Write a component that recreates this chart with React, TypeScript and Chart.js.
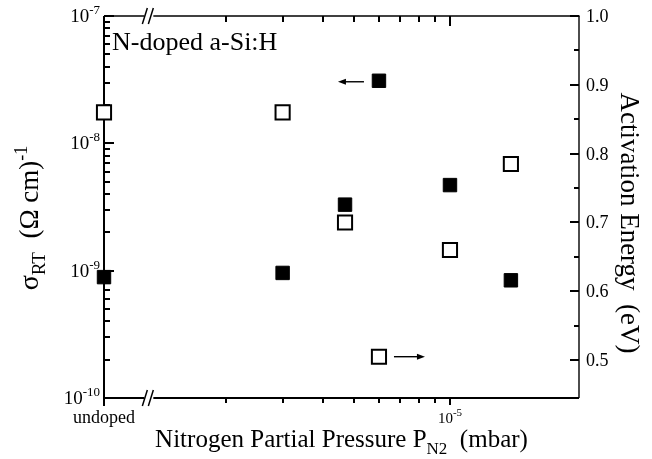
import React, { useEffect, useRef } from "react";
import { Chart, registerables } from "chart.js";

Chart.register(...registerables);

// ---------- data ----------
const UNDOPED = 8.3e-7; // x position used for the "undoped" sample
const X_MAX = 2.53e-5;
const BREAK_AT = 1.15e-6;

const conductivityPressure = [UNDOPED, 3e-6, 4.7e-6, 6e-6, 1e-5, 1.55e-5];
const conductivity = [8.9e-10, 9.6e-10, 3.3e-9, 3.1e-8, 4.7e-9, 8.4e-10];

const energyPressure = [UNDOPED, 3e-6, 4.7e-6, 6e-6, 1e-5, 1.55e-5];
const activationEnergy = [0.86, 0.86, 0.7, 0.505, 0.66, 0.785];

const xTickValues = [UNDOPED, 2e-6, 3e-6, 4e-6, 5e-6, 6e-6, 7e-6, 8e-6, 9e-6, 1e-5];
const xMajorValues = [UNDOPED, 1e-5];
const xTickLabels = ["undoped", "10|-5"];

const yLeftMajor = [1e-10, 1e-9, 1e-8, 1e-7];
const yLeftLabels = ["10|-10", "10|-9", "10|-8", "10|-7"];
const yLeftMinorFactors = [2, 3, 4, 5, 6, 7, 8, 9];

const yRightMajor = [0.5, 0.6, 0.7, 0.8, 0.9, 1.0];
const yRightLabels = ["0.5", "0.6", "0.7", "0.8", "0.9", "1.0"];
const yRightMinor = [0.55, 0.65, 0.75, 0.85, 0.95];

const FONT = '"Liberation Serif", "Times New Roman", serif';

type Part = { t: string; size: number; dy?: number };

function partsWidth(ctx: CanvasRenderingContext2D, parts: Part[]) {
  let w = 0;
  for (const p of parts) {
    ctx.font = `${p.size}px ${FONT}`;
    w += ctx.measureText(p.t).width;
  }
  return w;
}

function drawParts(
  ctx: CanvasRenderingContext2D,
  parts: Part[],
  x: number,
  y: number,
  align: "left" | "center" | "right"
) {
  const w = partsWidth(ctx, parts);
  let cx = align === "left" ? x : align === "center" ? x - w / 2 : x - w;
  ctx.textAlign = "left";
  ctx.textBaseline = "alphabetic";
  for (const p of parts) {
    ctx.font = `${p.size}px ${FONT}`;
    ctx.fillText(p.t, cx, y + (p.dy || 0));
    cx += ctx.measureText(p.t).width;
  }
}

function powerParts(label: string, base: number, sup: number, rise: number): Part[] {
  const [b, e] = label.split("|");
  if (e === undefined) return [{ t: b, size: base }];
  return [
    { t: b, size: base },
    { t: e, size: sup, dy: -rise },
  ];
}

function seg(ctx: CanvasRenderingContext2D, x1: number, y1: number, x2: number, y2: number, w: number) {
  ctx.lineWidth = w;
  ctx.beginPath();
  ctx.moveTo(x1, y1);
  ctx.lineTo(x2, y2);
  ctx.stroke();
}

// tick marks as filled rectangles
function hTick(ctx: CanvasRenderingContext2D, x: number, y: number, len: number) {
  const yy = Math.round(y) - 1;
  if (len >= 0) ctx.fillRect(x, yy, len, 2);
  else ctx.fillRect(x + len, yy, -len, 2);
}
function vTick(ctx: CanvasRenderingContext2D, x: number, y: number, len: number) {
  const xx = Math.round(x) - 1;
  if (len >= 0) ctx.fillRect(xx, y, 2, len);
  else ctx.fillRect(xx, y + len, 2, -len);
}

function drawFrameAndTicks(chart: any) {
  const ctx: CanvasRenderingContext2D = chart.ctx;
  const { left, right, top, bottom } = chart.chartArea;
  const xs = chart.scales.x;
  const yl = chart.scales.y;
  const yr = chart.scales.y1;
  ctx.save();
  ctx.strokeStyle = "#000";
  ctx.fillStyle = "#000";
  ctx.lineCap = "butt";

  // frame
  seg(ctx, left, top, left, bottom + 8, 2);
  seg(ctx, left - 1, bottom, right, bottom, 2);
  seg(ctx, left, top, right + 0.6, top, 1.4);
  seg(ctx, right, top, right, bottom, 1.4);

  // ticks
  for (let i = 0; i < yLeftMajor.length; i++) {
    const v = yLeftMajor[i];
    hTick(ctx, left, yl.getPixelForValue(v), 10);
    if (i < yLeftMajor.length - 1) {
      for (const f of yLeftMinorFactors) hTick(ctx, left, yl.getPixelForValue(v * f), 6);
    }
  }
  for (const v of yRightMajor) hTick(ctx, right, yr.getPixelForValue(v), -9);
  for (const v of yRightMinor) hTick(ctx, right, yr.getPixelForValue(v), -5);
  for (const v of xTickValues) {
    if (v === UNDOPED) continue;
    const x = xs.getPixelForValue(v);
    const major = xMajorValues.indexOf(v) >= 0;
    vTick(ctx, x, bottom, major ? 7 : 5);
    vTick(ctx, x, top, major ? 10 : 6);
  }

  // axis breaks
  const bx = xs.getPixelForValue(BREAK_AT);
  for (const yy of [top, bottom]) {
    ctx.fillStyle = "#fff";
    ctx.fillRect(bx - 5, yy - 2, 9, 4);
    seg(ctx, bx - 7, yy + 8, bx - 2, yy - 8, 1.5);
    seg(ctx, bx - 1, yy + 8, bx + 4, yy - 8, 1.5);
  }
  ctx.restore();
}

function drawLabels(chart: any) {
  const ctx: CanvasRenderingContext2D = chart.ctx;
  const { left, right, top, bottom } = chart.chartArea;
  const xs = chart.scales.x;
  const yl = chart.scales.y;
  const yr = chart.scales.y1;
  ctx.save();
  ctx.fillStyle = "#000";
  ctx.strokeStyle = "#000";

  yLeftMajor.forEach((v, i) => {
    const y = yl.getPixelForValue(v);
    drawParts(ctx, powerParts(yLeftLabels[i], 19, 13, 8), left - 4, y + 6, "right");
  });
  yRightMajor.forEach((v, i) => {
    const y = yr.getPixelForValue(v);
    drawParts(ctx, [{ t: yRightLabels[i], size: 18 }], right + 7, y + 6, "left");
  });
  xMajorValues.forEach((v, i) => {
    const x = xs.getPixelForValue(v);
    const parts =
      i === 0 ? [{ t: xTickLabels[0], size: 18 }] : powerParts(xTickLabels[i], 15, 11, 7);
    drawParts(ctx, parts, x, bottom + 25, "center");
  });

  drawParts(
    ctx,
    [
      { t: "Nitrogen Partial Pressure P", size: 25 },
      { t: "N2", size: 17, dy: 7 },
      { t: "  (mbar)", size: 25 },
    ],
    (left + right) / 2,
    bottom + 49,
    "center"
  );

  ctx.save();
  ctx.translate(38, 218);
  ctx.rotate(-Math.PI / 2);
  drawParts(
    ctx,
    [
      { t: "σ", size: 28 },
      { t: "RT", size: 19, dy: 7 },
      { t: "  (Ω cm)", size: 27 },
      { t: "-1", size: 18, dy: -11 },
    ],
    0,
    0,
    "center"
  );
  ctx.restore();

  ctx.save();
  ctx.translate(621, 223);
  ctx.rotate(Math.PI / 2);
  drawParts(ctx, [{ t: "Activation Energy  (eV)", size: 27 }], 0, 0, "center");
  ctx.restore();

  drawParts(ctx, [{ t: "N-doped a-Si:H", size: 26 }], left + 8, top + 34, "left");

  const arrow = (x1: number, x2: number, y: number) => {
    const dir = Math.sign(x2 - x1);
    seg(ctx, x1, y, x2 - dir * 6, y, 1.4);
    ctx.beginPath();
    ctx.moveTo(x2, y);
    ctx.lineTo(x2 - dir * 8, y - 3);
    ctx.lineTo(x2 - dir * 8, y + 3);
    ctx.closePath();
    ctx.fill();
  };
  const pA = { x: xs.getPixelForValue(conductivityPressure[3]), y: yl.getPixelForValue(conductivity[3]) };
  arrow(pA.x - 15, pA.x - 41, pA.y + 1);
  const pB = { x: xs.getPixelForValue(energyPressure[3]), y: yr.getPixelForValue(activationEnergy[3]) };
  arrow(pB.x + 15, pB.x + 46, pB.y);

  ctx.restore();
}

const axesPlugin = {
  id: "paperAxes",
  beforeDatasetsDraw(chart: any) {
    drawFrameAndTicks(chart);
  },
  afterDatasetsDraw(chart: any) {
    drawLabels(chart);
  },
};

export default function App() {
  const ref = useRef<HTMLCanvasElement | null>(null);

  useEffect(() => {
    document.body.style.margin = "0";
    const canvas = ref.current;
    if (!canvas) return;
    const chart = new Chart(canvas, {
      type: "scatter",
      data: {
        datasets: [
          {
            label: "σRT",
            data: conductivityPressure.map((x, i) => ({ x, y: conductivity[i] })),
            yAxisID: "y",
            pointStyle: "rect",
            pointRadius: 9.5,
            pointHoverRadius: 9.5,
            backgroundColor: "#000",
            borderColor: "#000",
            borderWidth: 1,
            clip: false as any,
          },
          {
            label: "Activation Energy",
            data: energyPressure.map((x, i) => ({ x, y: activationEnergy[i] })),
            yAxisID: "y1",
            pointStyle: "rect",
            pointRadius: 10,
            pointHoverRadius: 10,
            backgroundColor: "#fff",
            borderColor: "#000",
            borderWidth: 2,
            clip: false as any,
          },
        ],
      },
      options: {
        responsive: false,
        animation: false,
        devicePixelRatio: 1,
        layout: { padding: { left: 104, right: 73, top: 16, bottom: 61 } },
        plugins: { legend: { display: false }, tooltip: { enabled: false } },
        scales: {
          x: { type: "logarithmic", display: false, min: UNDOPED, max: X_MAX },
          y: { type: "logarithmic", display: false, min: 1e-10, max: 1e-7, position: "left" },
          y1: { type: "linear", display: false, min: 0.445, max: 1.0, position: "right" },
        },
      },
      plugins: [axesPlugin],
    });
    return () => chart.destroy();
  }, []);

  return (
    <div style={{ width: 652, height: 459, background: "#fff" }}>
      <canvas ref={ref} width={652} height={459} style={{ display: "block" }} />
    </div>
  );
}
